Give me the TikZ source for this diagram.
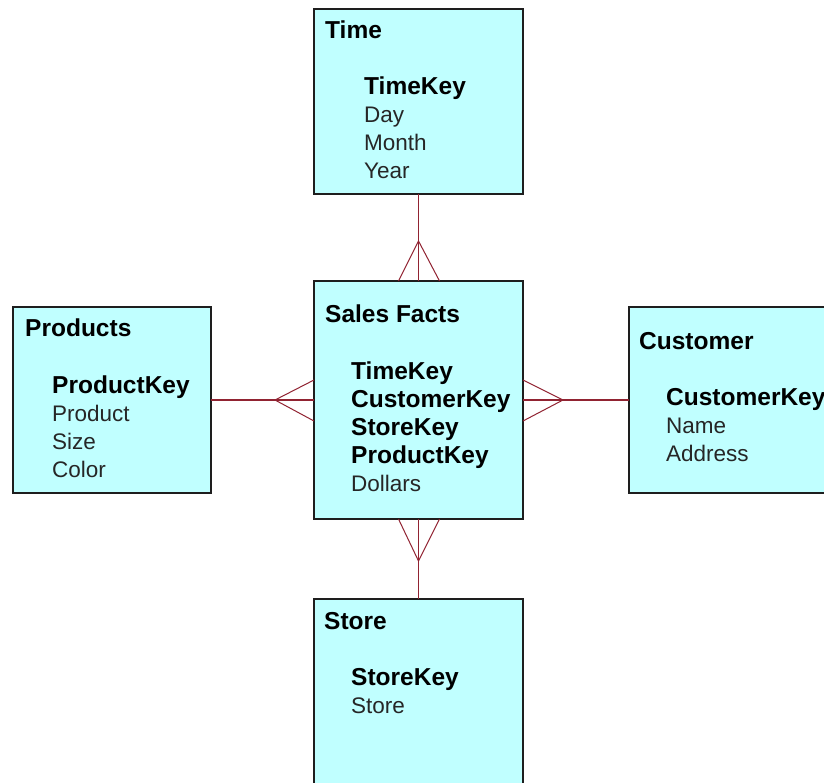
\documentclass[tikz,border=0pt]{standalone}
\usepackage{fontspec}
\setmainfont{Liberation Sans}
\usetikzlibrary{calc}
\definecolor{tablefill}{RGB}{192,255,255}
\definecolor{relline}{RGB}{145,35,50}
\definecolor{tableedge}{RGB}{30,30,30}
\begin{document}
\begin{tikzpicture}[x=1pt,y=-1pt,
  tablebox/.style={draw=tableedge, line width=1.4pt, fill=tablefill, rectangle, inner sep=0pt, outer sep=0pt},
  tabletitle/.style={anchor=base west, inner sep=0pt, font=\fontsize{24.5}{28}\selectfont\bfseries},
  keyfield/.style={anchor=base west, inner sep=0pt, font=\fontsize{24.5}{28}\selectfont\bfseries},
  attrfield/.style={anchor=base west, inner sep=0pt, font=\fontsize{22.5}{28}\selectfont, text=black!85},
  relation/.style={draw=relline, line width=1.3pt},
  crowfoot/.style={draw=relline, line width=1pt}]

\useasboundingbox (0,0) rectangle (824,783);
\clip (0,0) rectangle (824,783);
\fill[white] (0,0) rectangle (824,783);

% tables
\node[tablebox, minimum width=209pt, minimum height=185pt] (time) at (418.5,101.5) {};
\node[tablebox, minimum width=209pt, minimum height=238pt] (sales) at (418.5,400) {};
\node[tablebox, minimum width=198pt, minimum height=186pt] (products) at (112,400) {};
\node[tablebox, minimum width=231pt, minimum height=186pt] (customer) at (744.5,400) {};
\node[tablebox, minimum width=209pt, minimum height=211pt] (store) at (418.5,704.5) {};

% Time
\node[tabletitle] (time-t) at (325,39) {Time};
\node[keyfield] (time-k) at (364,95) {TimeKey};
\node[attrfield] (time-a1) at (364,123) {Day};
\node[attrfield] (time-a2) at (364,151) {Month};
\node[attrfield] (time-a3) at (364,179) {Year};

% Sales Facts
\node[tabletitle] (sales-t) at (325,323) {Sales Facts};
\node[keyfield] (sales-k1) at (351,379) {TimeKey};
\node[keyfield] (sales-k2) at (351,407) {CustomerKey};
\node[keyfield] (sales-k3) at (351,435) {StoreKey};
\node[keyfield] (sales-k4) at (351,463) {ProductKey};
\node[attrfield] (sales-a1) at (351,491) {Dollars};

% Products
\node[tabletitle] (products-t) at (25,337) {Products};
\node[keyfield] (products-k) at (52,393) {ProductKey};
\node[attrfield] (products-a1) at (52,421) {Product};
\node[attrfield] (products-a2) at (52,449) {Size};
\node[attrfield] (products-a3) at (52,477) {Color};

% Customer
\node[tabletitle] (customer-t) at (639,349) {Customer};
\node[keyfield] (customer-k) at (666,405) {CustomerKey};
\node[attrfield] (customer-a1) at (666,433) {Name};
\node[attrfield] (customer-a2) at (666,461) {Address};

% Store
\node[tabletitle] (store-t) at (324,629) {Store};
\node[keyfield] (store-k) at (351,685) {StoreKey};
\node[attrfield] (store-a1) at (351,713) {Store};

% relationships: one dimension row to many fact rows
\coordinate (ft) at ($(sales.north)+(0,-40)$);
\coordinate (fp) at ($(sales.west)+(-39,0)$);
\coordinate (fc) at ($(sales.east)+(40,0)$);
\coordinate (fs) at ($(sales.south)+(0,42)$);

\draw[relation] (time.south) -- (sales.north);
\draw[crowfoot] ($(sales.north)+(-20,0)$) -- (ft) -- ($(sales.north)+(21,0)$);

\draw[relation] (products.east) -- (sales.west);
\draw[crowfoot] ($(sales.west)+(0,-20)$) -- (fp) -- ($(sales.west)+(0,21)$);

\draw[relation] (customer.west) -- (sales.east);
\draw[crowfoot] ($(sales.east)+(0,-20)$) -- (fc) -- ($(sales.east)+(0,21)$);

\draw[relation] (store.north) -- (sales.south);
\draw[crowfoot] ($(sales.south)+(-20,0)$) -- (fs) -- ($(sales.south)+(21,0)$);
\end{tikzpicture}
\end{document}
